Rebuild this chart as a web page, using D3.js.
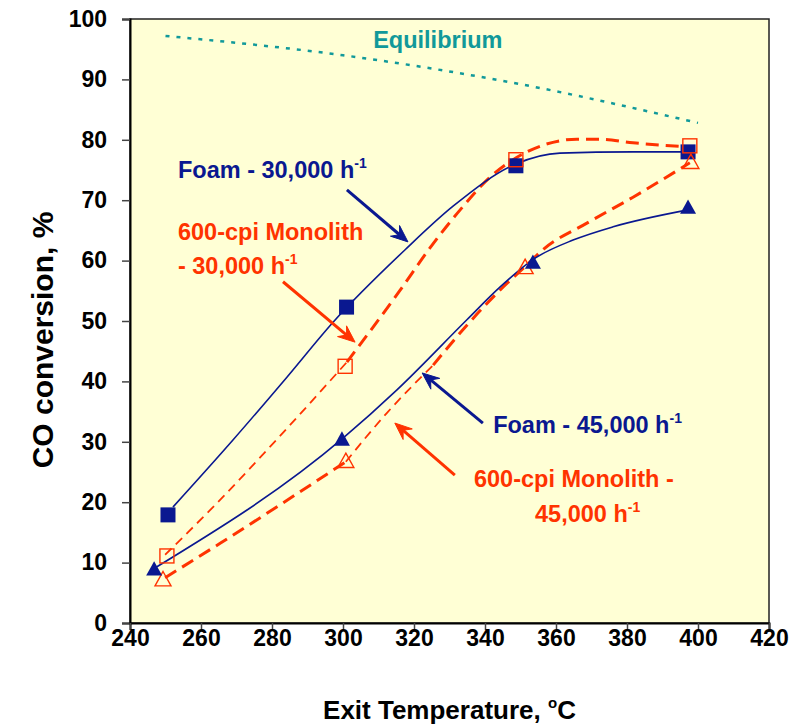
<!DOCTYPE html>
<html>
<head>
<meta charset="utf-8">
<script src="https://cdn.jsdelivr.net/npm/d3@7/dist/d3.min.js"></script>
<style>
  html, body { margin: 0; padding: 0; background: #ffffff; }
  svg { display: block; font-family: "Liberation Sans", Arial, sans-serif; }
</style>
</head>
<body>
<svg id="chart" width="800" height="724"></svg>
<script>
// Axis ticks
const tempTicks = [240, 260, 280, 300, 320, 340, 360, 380, 400, 420];
const convTicks = [0, 10, 20, 30, 40, 50, 60, 70, 80, 90, 100];

// Measured points: [exit temperature °C, CO conversion %]
const foam30Points = [[250.7, 17.9], [301.0, 52.3], [348.7, 75.7], [397.2, 78.0]];
const mono30Points = [[250.4, 11.1], [300.6, 42.5], [348.7, 76.7], [397.7, 79.0]];
const foam45Points = [[246.8, 8.8], [299.7, 30.3], [353.5, 59.6], [397.2, 68.7]];
const mono45Points = [[249.3, 7.1], [300.8, 26.7], [351.3, 58.8], [398.0, 76.2]];

// Smoothed trend curves
const foam30Curve = [[252.1, 19.2], [269.0, 30.3], [284.2, 40.7], [297.2, 49.8], [317.5, 61.8],
  [331.0, 69.0], [348.7, 76.0], [361.1, 77.8], [381.7, 78.0], [397.2, 78.0]];
const foam45Curve = [[247.0, 9.1], [300.0, 30.6], [315.2, 38.6], [334.9, 50.2], [344.2, 55.6],
  [354.1, 60.4], [364.8, 63.4], [376.1, 65.6], [397.2, 68.4]];
const mono30Curve = [[249.9, 11.3], [263.9, 19.5], [282.0, 30.8], [301.1, 43.2],
  [316.1, 55.1], [324.5, 62.1], [333.0, 68.4], [341.4, 73.8], [347.9, 76.7], [356.3, 79.1],
  [365.9, 80.1], [372.4, 80.1], [381.7, 79.5], [397.7, 78.8]];
const mono45Curve = [[249.9, 7.5], [265.4, 13.2], [300.8, 26.7], [312.4, 34.8], [325.4, 42.7],
  [334.9, 49.3], [344.2, 55.1], [351.8, 59.3], [356.3, 61.8], [368.7, 66.2], [381.7, 70.5], [397.7, 76.2]];

// Equilibrium conversion
const equilibrium = [[250, 97.2], [300, 94.0], [350, 89.2], [400, 82.8]];

// Callout arrows (data units): tail -> head
const arrowFoam30 = [[301.1, 71.7], [318.3, 63.1]];
const arrowMono30 = [[283.1, 56.5], [303.4, 46.5]];
const arrowFoam45 = [[339.4, 33.1], [322.3, 41.4]];
const arrowMono45 = [[331.5, 24.5], [314.6, 33.1]];

const NAVY = "#0a1890";
const RED = "#ff3300";
const TEAL = "#11999a";

const svg = d3.select("#chart");
const margin = { left: 130, right: 31, top: 19, bottom: 101 };
const W = 800, H = 724;

const x = d3.scaleLinear().domain([240, 420]).range([margin.left, W - margin.right]);
const y = d3.scaleLinear().domain([0, 100]).range([H - margin.bottom, margin.top]);

// Plot area
svg.append("rect")
  .attr("x", x(240)).attr("y", y(100))
  .attr("width", x(420) - x(240)).attr("height", y(0) - y(100))
  .attr("fill", "#ffffd5")
  .attr("stroke", "#222").attr("stroke-width", 1.5);

// Axes
const axisFont = g => g.selectAll("text")
  .attr("font-size", 23).attr("font-weight", "bold").attr("fill", "#000")
  .attr("font-family", "'Liberation Sans', Arial, sans-serif");

const yAxis = svg.append("g")
  .attr("transform", `translate(${x(240)},0)`)
  .call(d3.axisLeft(y).tickValues(convTicks).tickSize(8).tickPadding(15).tickFormat(d3.format("d")));
yAxis.select(".domain").attr("stroke", "#000").attr("stroke-width", 2);
yAxis.selectAll(".tick line").attr("stroke", "#444").attr("stroke-width", 1.5);
yAxis.call(axisFont);

const xAxis = svg.append("g")
  .attr("transform", `translate(0,${y(0)})`)
  .call(d3.axisBottom(x).tickValues(tempTicks).tickSize(7).tickPadding(0).tickFormat(d3.format("d")));
xAxis.select(".domain").attr("stroke", "#000").attr("stroke-width", 2);
xAxis.selectAll(".tick line").attr("stroke", "#444").attr("stroke-width", 1.5);
xAxis.call(axisFont);

// Axis titles
const xTitle = svg.append("text")
  .attr("x", (x(240) + x(420)) / 2).attr("y", 719)
  .attr("text-anchor", "middle")
  .attr("font-size", 26).attr("font-weight", "bold").attr("fill", "#000");
xTitle.append("tspan").text("Exit Temperature, ");
xTitle.append("tspan").attr("font-size", 15).attr("dy", -11).text("o");
xTitle.append("tspan").attr("dy", 11).text("C");

svg.append("text")
  .attr("transform", `translate(53,340) rotate(-90)`)
  .attr("text-anchor", "middle")
  .attr("font-size", 30).attr("font-weight", "bold").attr("fill", "#000")
  .text("CO conversion, %");

// Lines
const line = d3.line().x(d => x(d[0])).y(d => y(d[1])).curve(d3.curveMonotoneX);

const plot = svg.append("g");

plot.append("path").datum(equilibrium)
  .attr("d", line).attr("fill", "none")
  .attr("stroke", TEAL).attr("stroke-width", 2.5).attr("stroke-dasharray", "4,7");

function dashed(data, width, dash) {
  plot.append("path").datum(data)
    .attr("d", line).attr("fill", "none")
    .attr("stroke", RED).attr("stroke-width", width).attr("stroke-dasharray", dash);
}
const THIN = [1.8, "9,6"], THICK = [3, "13,7"];
dashed(mono30Curve.slice(0, 4), ...THIN);
dashed(mono30Curve.slice(3), ...THICK);
dashed(mono45Curve.slice(0, 3), ...THICK);
dashed(mono45Curve.slice(2, 5), ...THIN);
dashed(mono45Curve.slice(4), ...THICK);

[foam30Curve, foam45Curve].forEach(c => {
  plot.append("path").datum(c)
    .attr("d", line).attr("fill", "none")
    .attr("stroke", NAVY).attr("stroke-width", 1.6);
});

// Markers
const sq = 15, tri = 16;
plot.selectAll(".foam30").data(foam30Points).join("rect")
  .attr("x", d => x(d[0]) - sq / 2).attr("y", d => y(d[1]) - sq / 2)
  .attr("width", sq).attr("height", sq).attr("fill", NAVY);

plot.selectAll(".mono30").data(mono30Points).join("rect")
  .attr("x", d => x(d[0]) - 7).attr("y", d => y(d[1]) - 7)
  .attr("width", 14).attr("height", 14)
  .attr("fill", "none").attr("stroke", RED).attr("stroke-width", 1.4);

const triPath = (cx, cy, s) => {
  const h = s * 0.9;
  return `M${cx},${cy - h * 0.6}L${cx + s / 2},${cy + h * 0.4}L${cx - s / 2},${cy + h * 0.4}Z`;
};

plot.selectAll(".mono45").data(mono45Points).join("path")
  .attr("d", d => triPath(x(d[0]), y(d[1]), tri))
  .attr("fill", "none").attr("stroke", RED).attr("stroke-width", 1.4);

plot.selectAll(".foam45").data(foam45Points).join("path")
  .attr("d", d => triPath(x(d[0]), y(d[1]), tri))
  .attr("fill", NAVY);

// Callout arrows
function arrow(pts, color) {
  const [x0, y0] = [x(pts[0][0]), y(pts[0][1])];
  const [x1, y1] = [x(pts[1][0]), y(pts[1][1])];
  const ang = Math.atan2(y1 - y0, x1 - x0);
  const L = 17, Wd = 7, N = 11;
  const ux = Math.cos(ang), uy = Math.sin(ang);
  const px = -uy, py = ux;
  svg.append("line")
    .attr("x1", x0).attr("y1", y0)
    .attr("x2", x1 - ux * N).attr("y2", y1 - uy * N)
    .attr("stroke", color).attr("stroke-width", 3);
  const head = [
    [x1, y1],
    [x1 - ux * L + px * Wd, y1 - uy * L + py * Wd],
    [x1 - ux * N, y1 - uy * N],
    [x1 - ux * L - px * Wd, y1 - uy * L - py * Wd]
  ];
  svg.append("path")
    .attr("d", "M" + head.join("L") + "Z")
    .attr("fill", color).attr("stroke", color).attr("stroke-width", 1).attr("stroke-linejoin", "miter");
}
arrow(arrowFoam30, NAVY);
arrow(arrowMono30, RED);
arrow(arrowFoam45, NAVY);
arrow(arrowMono45, RED);

// Callout labels
function label(t, v, color, main, sup) {
  const txt = svg.append("text")
    .attr("x", x(t)).attr("y", y(v))
    .attr("font-size", 23.5).attr("font-weight", "bold").attr("fill", color);
  txt.append("tspan").text(main);
  if (sup) txt.append("tspan").attr("font-size", 14).attr("dy", -10).text(sup);
}
label(308.5, 95.2, TEAL, "Equilibrium");
label(253.5, 73.7, NAVY, "Foam - 30,000 h", "-1");
label(253.5, 63.4, RED, "600-cpi Monolith");
label(253.5, 57.8, RED, "- 30,000 h", "-1");
label(342.3, 31.5, NAVY, "Foam - 45,000 h", "-1");
label(336.9, 22.5, RED, "600-cpi Monolith -");
label(354.1, 16.7, RED, "45,000 h", "-1");
</script>
</body>
</html>
